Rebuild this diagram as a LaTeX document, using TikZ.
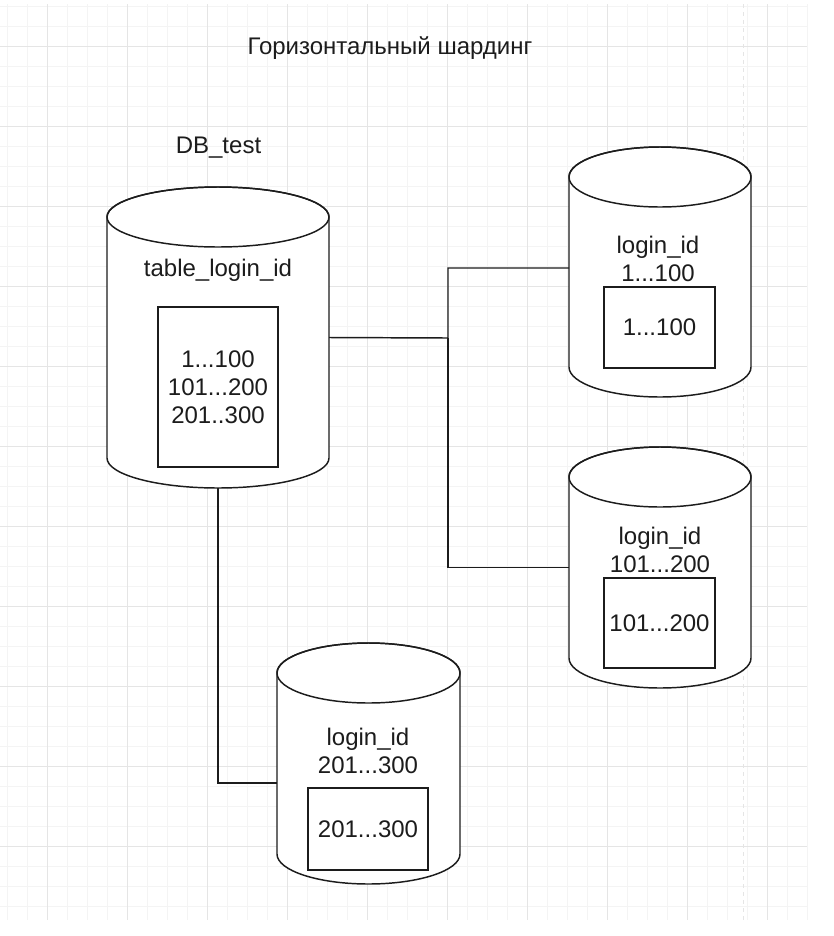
\documentclass[tikz,border=0pt]{standalone}
\usepackage{fontspec}
\setmainfont{Liberation Sans}
\usepackage{xcolor}
\usepackage{tikz}
\definecolor{gridlight}{RGB}{244,244,244}
\definecolor{griddark}{RGB}{229,229,229}
\definecolor{inkgray}{RGB}{28,28,28}

\tikzset{
  dbbody/.style={inner sep=0pt, outer sep=0pt},
  dbline/.style={draw=inkgray, line width=1.1pt},
  dbtext/.style={font=\fontsize{18}{21}\selectfont, text=inkgray, align=center},
  rowbox/.style={dbline, dbtext, fill=white, inner sep=0pt},
  link/.style={draw=inkgray, line width=1.1pt}
}

% cylinder outline around an invisible body node: #1 node, #2 x radius
\newcommand{\dbcylinder}[2]{%
  \draw[dbline, fill=white] ([yshift=-22.5pt]#1.north west) -- ([yshift=22.5pt]#1.south west)
    arc[start angle=180, end angle=360, x radius=#2, y radius=22.5pt]
    -- ([yshift=-22.5pt]#1.north east)
    arc[start angle=0, end angle=180, x radius=#2, y radius=22.5pt] -- cycle;
  \draw[dbline] ([yshift=-22.5pt]#1.north) ellipse[x radius=#2, y radius=22.5pt];}

\begin{document}
\begin{tikzpicture}[x=0.75pt, y=-0.75pt]
\useasboundingbox (0,0) rectangle (834,936);

% background grid
\foreach \x in {7,27,...,807} \draw[gridlight, line width=0.5pt] (\x,4) -- (\x,920);
\foreach \y in {6,26,...,906} \draw[gridlight, line width=0.5pt] (0,\y) -- (807,\y);
\foreach \x in {47,127,...,767} \draw[griddark, line width=0.6pt] (\x,4) -- (\x,920);
\foreach \y in {46,126,...,846} \draw[griddark, line width=0.6pt] (0,\y) -- (807,\y);
\draw[griddark, dashed, line width=0.6pt] (743,4) -- (743,920);

% title
\node[dbtext] (title) at (390,48) {Горизонтальный шардинг};

% source database
\node[dbtext] (dbname) at (218.5,148) {DB\_test};
\node[dbbody, minimum width=166.5pt, minimum height=225.75pt] (dbmain) at (218,337.5) {};
\dbcylinder{dbmain}{83.25pt}
\node[dbtext] (tblname) at (218,270) {table\_login\_id};
\node[rowbox, minimum width=90pt, minimum height=120pt] (tblrows) at (218,387) {1...100\\101...200\\201..300};

% shard 1
\node[dbbody, minimum width=136.5pt, minimum height=187.5pt] (shard1) at (660,272) {};
\dbcylinder{shard1}{68.25pt}
\node[dbtext] (shard1name) at (658,259) {login\_id\\1...100};
\node[rowbox, minimum width=83.25pt, minimum height=60.75pt] (shard1rows) at (659.5,327.5) {1...100};

% shard 2
\node[dbbody, minimum width=136.5pt, minimum height=180.75pt] (shard2) at (660,567.5) {};
\dbcylinder{shard2}{68.25pt}
\node[dbtext] (shard2name) at (660,550) {login\_id\\101...200};
\node[rowbox, minimum width=83.25pt, minimum height=67.5pt] (shard2rows) at (659.5,623) {101...200};

% shard 3
\node[dbbody, minimum width=137.25pt, minimum height=180.75pt] (shard3) at (368.5,763.5) {};
\dbcylinder{shard3}{68.625pt}
\node[dbtext] (shard3name) at (368,751) {login\_id\\201...300};
\node[rowbox, minimum width=90pt, minimum height=61.5pt] (shard3rows) at (368,829) {201...300};

% connectors
\coordinate (split) at (448,338);
\draw[link] (dbmain.east) -- (split) |- ([yshift=3pt]shard1.west);
\draw[link] (split) |- (shard2.west);
\draw[link] (dbmain.south) |- ([yshift=-14.6pt]shard3.west);
\end{tikzpicture}
\end{document}
